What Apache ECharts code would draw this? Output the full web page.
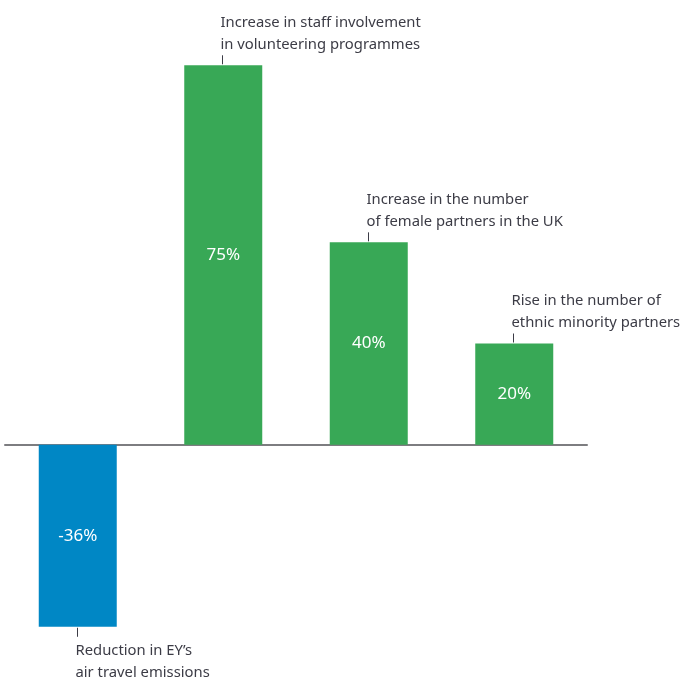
<!DOCTYPE html>
<html>
<head>
<meta charset="utf-8">
<script src="https://cdn.jsdelivr.net/npm/echarts@6/dist/echarts.min.js"></script>
<style>
  html, body { margin: 0; padding: 0; background: #fff; }
  #chart { width: 686px; height: 677px; }
</style>
</head>
<body>
<div id="chart"></div>
<script>
const categories = ["air", "volunteering", "female", "ethnic"];
const values = [-36, 75, 40, 20];
const valueLabels = ["-36%", "75%", "40%", "20%"];
const notes = [
  "Reduction in EY\u2019s\nair travel emissions",
  "Increase in staff involvement\nin volunteering programmes",
  "Increase in the number\nof female partners in the UK",
  "Rise in the number of\nethnic minority partners",
];

const BLUE = "#0087c5";
const GREEN = "#38a856";
const TEXT = "#3c3c46";
const FONT = "\"Noto Sans\", sans-serif";

const chart = echarts.init(document.getElementById("chart"), null, { renderer: "canvas" });

chart.setOption({
  backgroundColor: "#ffffff",
  animation: false,
  grid: { left: 5, width: 582, top: 40, height: 607 },
  xAxis: {
    type: "category",
    data: categories,
    axisLine: { show: true, onZero: true, lineStyle: { color: "#7d7d80", width: 2 } },
    axisTick: { show: false },
    axisLabel: { show: false },
    splitLine: { show: false },
  },
  yAxis: {
    type: "value",
    min: -40,
    max: 80,
    show: false,
    splitLine: { show: false },
  },
  series: [
    {
      type: "bar",
      barWidth: 78,
      z: 1,
      data: values.map((v, i) => ({
        value: v,
        itemStyle: { color: v < 0 ? BLUE : GREEN },
        label: { formatter: valueLabels[i] },
      })),
      label: {
        show: true,
        position: "inside",
        color: "#ffffff",
        fontFamily: FONT,
        fontSize: 17,
      },
    },
    {
      type: "custom",
      z: 5,
      clip: false,
      data: values.map((v, i) => [i, v]),
      renderItem: (params, api) => {
        const i = api.value(0);
        const v = api.value(1);
        const pt = api.coord([i, v]);
        const x = Math.round(pt[0]) - 0.5;
        const up = v >= 0;
        const y0 = up ? pt[1] - 10 : pt[1] + 1;
        const y1 = up ? pt[1] - 1 : pt[1] + 10;
        return {
          type: "group",
          children: [
            {
              type: "line",
              shape: { x1: x, y1: y0, x2: x, y2: y1 },
              style: { stroke: TEXT, lineWidth: 1 },
            },
            {
              type: "text",
              style: {
                text: notes[params.dataIndex],
                x: x - 2,
                y: up ? pt[1] - 10 : pt[1] + 13,
                fill: TEXT,
                font: "14.8px " + FONT,
                lineHeight: 22,
                align: "left",
                verticalAlign: up ? "bottom" : "top",
              },
            },
          ],
        };
      },
    },
  ],
});
</script>
</body>
</html>
